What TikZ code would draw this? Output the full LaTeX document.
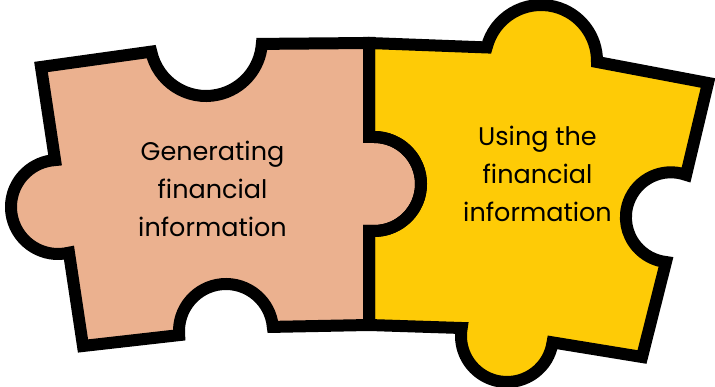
\documentclass[tikz,border=0pt]{standalone}
\usepackage{fontspec}
\setmainfont{Poppins}
\definecolor{salmon}{HTML}{EBB18F}
\definecolor{puzzleyellow}{HTML}{FECB06}
\tikzset{
  piece/.style={draw=black, line width=12pt, miter limit=10},
  label/.style={align=center, font=\fontsize{25.5}{38}\selectfont, text=black, anchor=base, inner sep=0pt}
}
\begin{document}
\begin{tikzpicture}[x=1pt,y=1pt]
\useasboundingbox (0,0) rectangle (715,387);
% centres of the knobs and notches
\coordinate (n1) at (206,347);
\coordinate (n2) at (226,56);
\coordinate (t1) at (58,180);
\coordinate (t2) at (374,203);
\coordinate (t3) at (541,326);
\coordinate (n3) at (670.9,169.7);
\coordinate (t4) at (507,51);
% left piece
\def\leftpiece{(41,320) -- ([shift={(192:56)}]n1) arc[start angle=192, end angle=356, radius=56]
  -- (369,344) -- (369,250) -- (374,250) arc[start angle=90, end angle=-90, radius=47]
  -- (369,156) -- (369,62) -- ([shift={(5:47)}]n2) arc[start angle=5, end angle=185, radius=47]
  -- (83,41) -- ([shift={(283.5:47)}]t1) arc[start angle=283.5, end angle=93.6, radius=47] -- cycle}
\def\rightpiece{(369,344) -- ([shift={(166:56)}]t3) arc[start angle=166, end angle=-1, radius=56]
  -- (708,304) -- ([shift={(70.3:45)}]n3) arc[start angle=70.3, end angle=263.7, radius=45]
  -- (642,30) -- ([shift={(352:46)}]t4) arc[start angle=352, end angle=170, radius=46]
  -- (369,62) -- (369,156) -- (374,156) arc[start angle=-90, end angle=90, radius=47]
  -- (369,250) -- cycle}
\path[fill=salmon] \leftpiece;
\path[fill=puzzleyellow] \rightpiece;
\draw[piece] \leftpiece;
\draw[piece] \rightpiece;
\node[label] (gen) at (212.5,150) {Generating\\financial\\information};
\node[label] (use) at (537.5,165) {Using the\\financial\\information};
\end{tikzpicture}
\end{document}
